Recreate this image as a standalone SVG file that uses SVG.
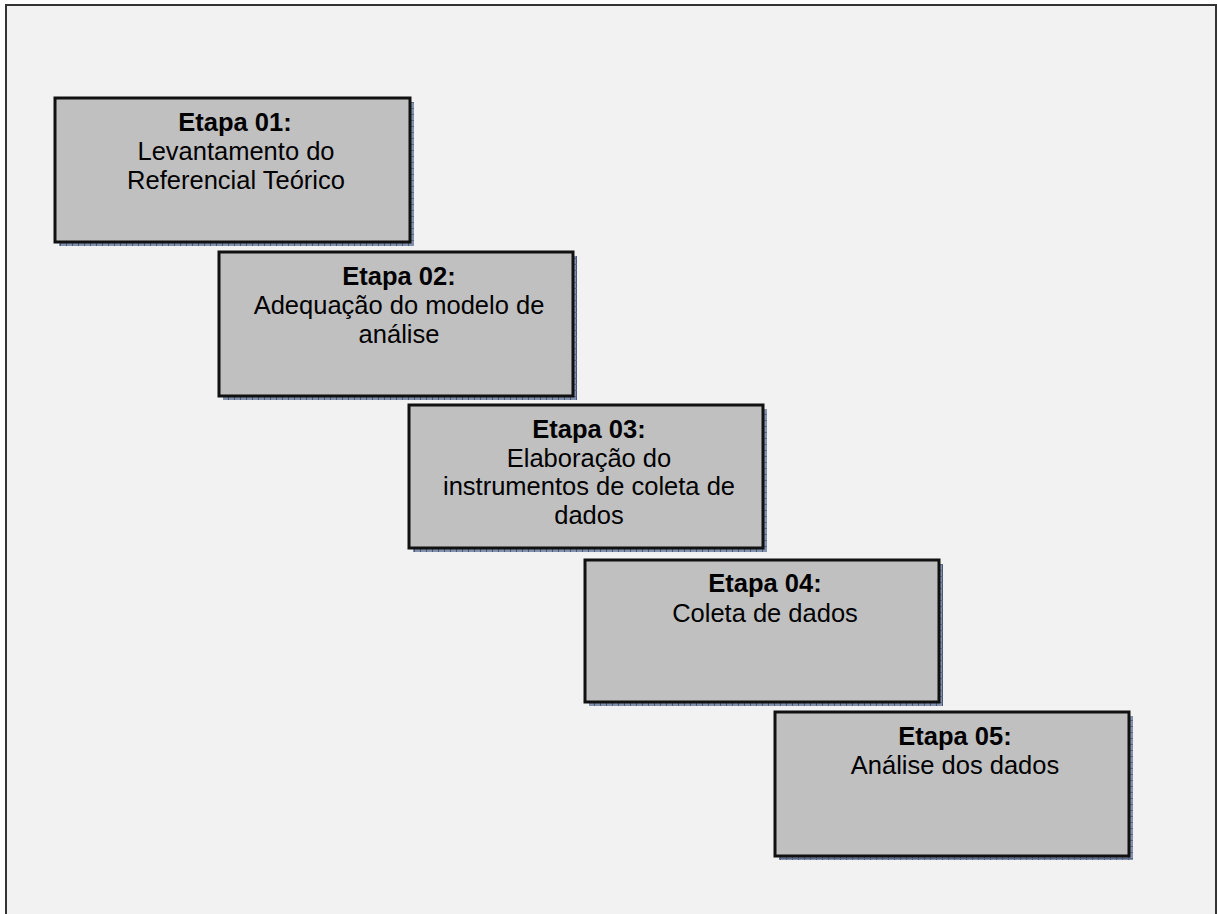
<svg xmlns="http://www.w3.org/2000/svg" width="1218" height="914" viewBox="0 0 1218 914">
<defs>
<pattern id="sh" width="6" height="6" patternUnits="userSpaceOnUse">
<rect width="6" height="6" fill="#8292ac"/>
<rect x="0" y="0" width="1" height="6" fill="#4a5a78"/>
<rect x="0" y="0" width="6" height="1" fill="#5a6a88"/>
</pattern>
<style>
.shadow{fill:url(#sh);}
.box{fill:#c0c0c0;stroke:#111;stroke-width:3;}
.t{font-family:"Liberation Sans",Arial,sans-serif;font-size:25.5px;fill:#000;text-anchor:middle;}
.b{font-weight:bold;}
</style>
</defs>
<rect x="0" y="0" width="1218" height="914" fill="#ffffff"/>
<rect x="6" y="5" width="1210" height="920" fill="#f2f2f2" stroke="#333" stroke-width="2"/>
<g id="connectors"></g>
<g id="etapa01">
<rect class="shadow" x="59" y="102" width="355" height="144"/>
<rect class="box" x="55" y="98" width="355" height="144"/>
<text class="t b" x="235" y="131">Etapa 01:</text>
<text class="t" x="236" y="160">Levantamento do</text>
<text class="t" x="236" y="189">Referencial Teórico</text>
</g>
<g id="etapa02">
<rect class="shadow" x="223" y="256" width="354" height="144"/>
<rect class="box" x="219" y="252" width="354" height="144"/>
<text class="t b" x="399" y="285">Etapa 02:</text>
<text class="t" x="399" y="314">Adequação do modelo de</text>
<text class="t" x="399" y="343">análise</text>
</g>
<g id="etapa03">
<rect class="shadow" x="413" y="409" width="354" height="143"/>
<rect class="box" x="409" y="405" width="354" height="143"/>
<text class="t b" x="589" y="438">Etapa 03:</text>
<text class="t" x="589" y="467">Elaboração do</text>
<text class="t" x="589" y="495">instrumentos de coleta de</text>
<text class="t" x="589" y="524">dados</text>
</g>
<g id="etapa04">
<rect class="shadow" x="589" y="564" width="354" height="142"/>
<rect class="box" x="585" y="560" width="354" height="142"/>
<text class="t b" x="765" y="592">Etapa 04:</text>
<text class="t" x="765" y="622">Coleta de dados</text>
</g>
<g id="etapa05">
<rect class="shadow" x="779" y="716" width="354" height="144"/>
<rect class="box" x="775" y="712" width="354" height="144"/>
<text class="t b" x="955" y="745">Etapa 05:</text>
<text class="t" x="955" y="774">Análise dos dados</text>
</g>
</svg>
